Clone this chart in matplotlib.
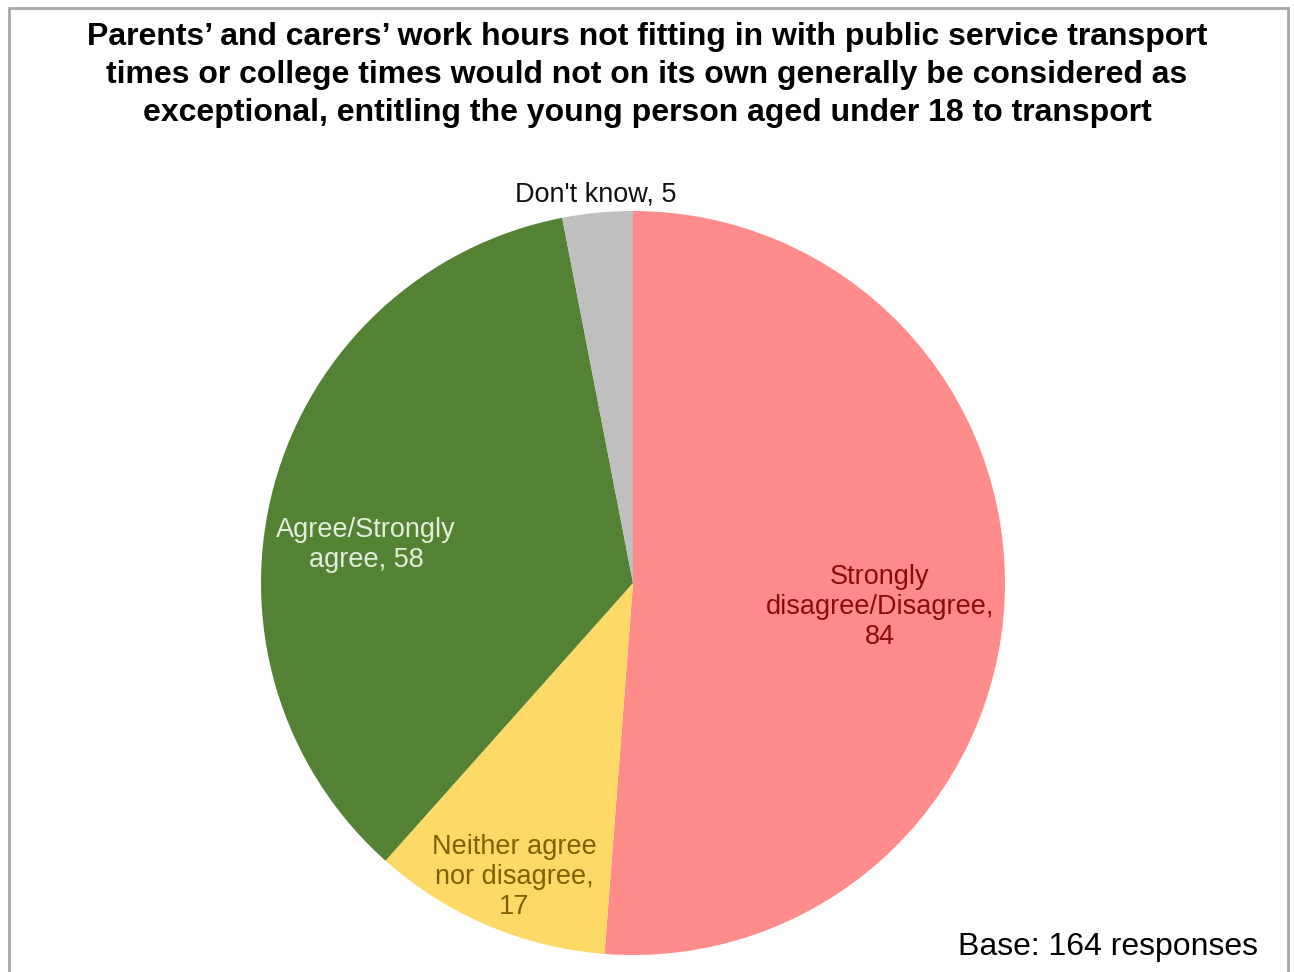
import matplotlib
matplotlib.use("Agg")
import matplotlib.pyplot as plt
from matplotlib.patches import Rectangle

plt.rcParams['font.family'] = ['Liberation Sans', 'DejaVu Sans']

categories = ["Strongly\ndisagree/Disagree,", "Neither agree\nnor disagree,",
              "Agree/Strongly\nagree,", "Don't know,"]
values = [84, 17, 58, 5]
colors = ["#FF8B8B", "#FFD966", "#548235", "#BFBFBF"]
text_colors = ["#8B0A0A", "#7F6000", "#E2EFDA", "#111111"]
label_sep = ["\n", "\n", " ", " "]

title = ("Parents\u2019 and carers\u2019 work hours not fitting in with public service transport\n"
         "times or college times would not on its own generally be considered as\n"
         "exceptional, entitling the young person aged under 18 to transport")
base = sum(values)

W, H = 1294, 972
fig = plt.figure(figsize=(W / 100, H / 100), dpi=100)
fig.patch.set_facecolor("white")

# grey outer frame
fig.add_artist(Rectangle((9 / W, -0.05), 1279 / W, 1.05 - 8 / H, transform=fig.transFigure,
                         fill=False, edgecolor="#A6A6A6", linewidth=2))

cx, cy, r = 633, 972 - 583, 372
ax = fig.add_axes([(cx - r) / W, (cy - r) / H, 2 * r / W, 2 * r / H])
wedges, _ = ax.pie(values, colors=colors, startangle=90, counterclock=False, radius=1,
                   wedgeprops=dict(linewidth=0))
ax.set_xlim(-1, 1)
ax.set_ylim(-1, 1)
ax.set_aspect("equal")
ax.axis("off")

# label placement inside / beside each wedge
label_pos = [(0.664, -0.065), (-0.320, -0.791), (-0.718, 0.102), (-0.099, 1.045)]
for cat, v, tc, sep, (lx, ly) in zip(categories, values, text_colors, label_sep, label_pos):
    text = cat + sep + str(v) if sep == "\n" else cat + " " + str(v)
    ax.text(lx, ly, text, ha="center", va="center", color=tc, fontsize=19.5,
            linespacing=1.2, clip_on=False)

fig.text(647 / W, 1 - 75 / H, title, ha="center", va="center", fontsize=23,
         fontweight="bold", linespacing=1.33)
fig.text(1258 / W, 1 - 947 / H, "Base: %d responses" % base, ha="right", va="center",
         fontsize=23)

fig.savefig("out.png", dpi=100, facecolor="white")
